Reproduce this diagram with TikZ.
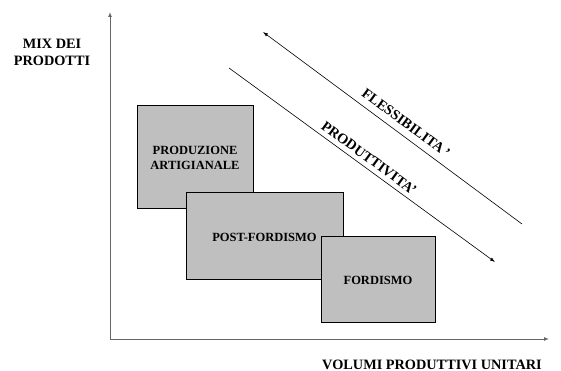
\documentclass[tikz,border=0pt]{standalone}
\usepackage{fontspec}
\setmainfont{Liberation Serif}
\usetikzlibrary{arrows.meta}
\begin{document}
\begin{tikzpicture}[x=1pt,y=-1pt,
  box/.style={draw=black,line width=0.9pt,fill=black!25},
  lbl/.style={font=\fontsize{12.5}{15}\selectfont\bfseries,align=center,text=black,inner sep=1pt},
  biglbl/.style={font=\fontsize{14.3}{17}\selectfont\bfseries,align=center,text=black,inner sep=0pt},
  axis/.style={draw=black!60,line width=1pt,-{Latex[length=5pt,width=4pt]}},
  diag/.style={draw=black,line width=0.6pt,-{Latex[length=5pt,width=3.5pt]}}]
\useasboundingbox (0,0) rectangle (561,371);
% axes
\coordinate (O) at (110,339);
\coordinate (ytop) at (110,12);
\coordinate (xend) at (549,339);
\draw[axis] (O) -- (ytop);
\draw[axis] (O) -- (xend);
\node[biglbl] (ylab) at (52,52) {MIX DEI\\PRODOTTI};
\node[biglbl,anchor=base] (xlab) at (432,369) {VOLUMI PRODUTTIVI UNITARI};
% boxes
\draw[box] (137,105) rectangle (253,208);
\node[lbl] (art) at (195,158) {PRODUZIONE\\ARTIGIANALE};
\draw[box] (186,192) rectangle (343,279);
\node[lbl] (post) at (264.5,237) {POST-FORDISMO};
\draw[box] (321,236) rectangle (435,322);
\node[lbl] (ford) at (378,280) {FORDISMO};
% diagonal arrows
\coordinate (f1) at (522,224);
\coordinate (f2) at (263,32);
\draw[diag] (f1) -- (f2);
\coordinate (p1) at (229,68);
\coordinate (p2) at (495,262);
\draw[diag] (p1) -- (p2);
\node[biglbl,rotate=-36.4] (flex) at (406,123) {FLESSIBILITA\,’};
\node[biglbl,rotate=-36.1] (prod) at (369,158) {PRODUTTIVITA’};
\end{tikzpicture}
\end{document}
